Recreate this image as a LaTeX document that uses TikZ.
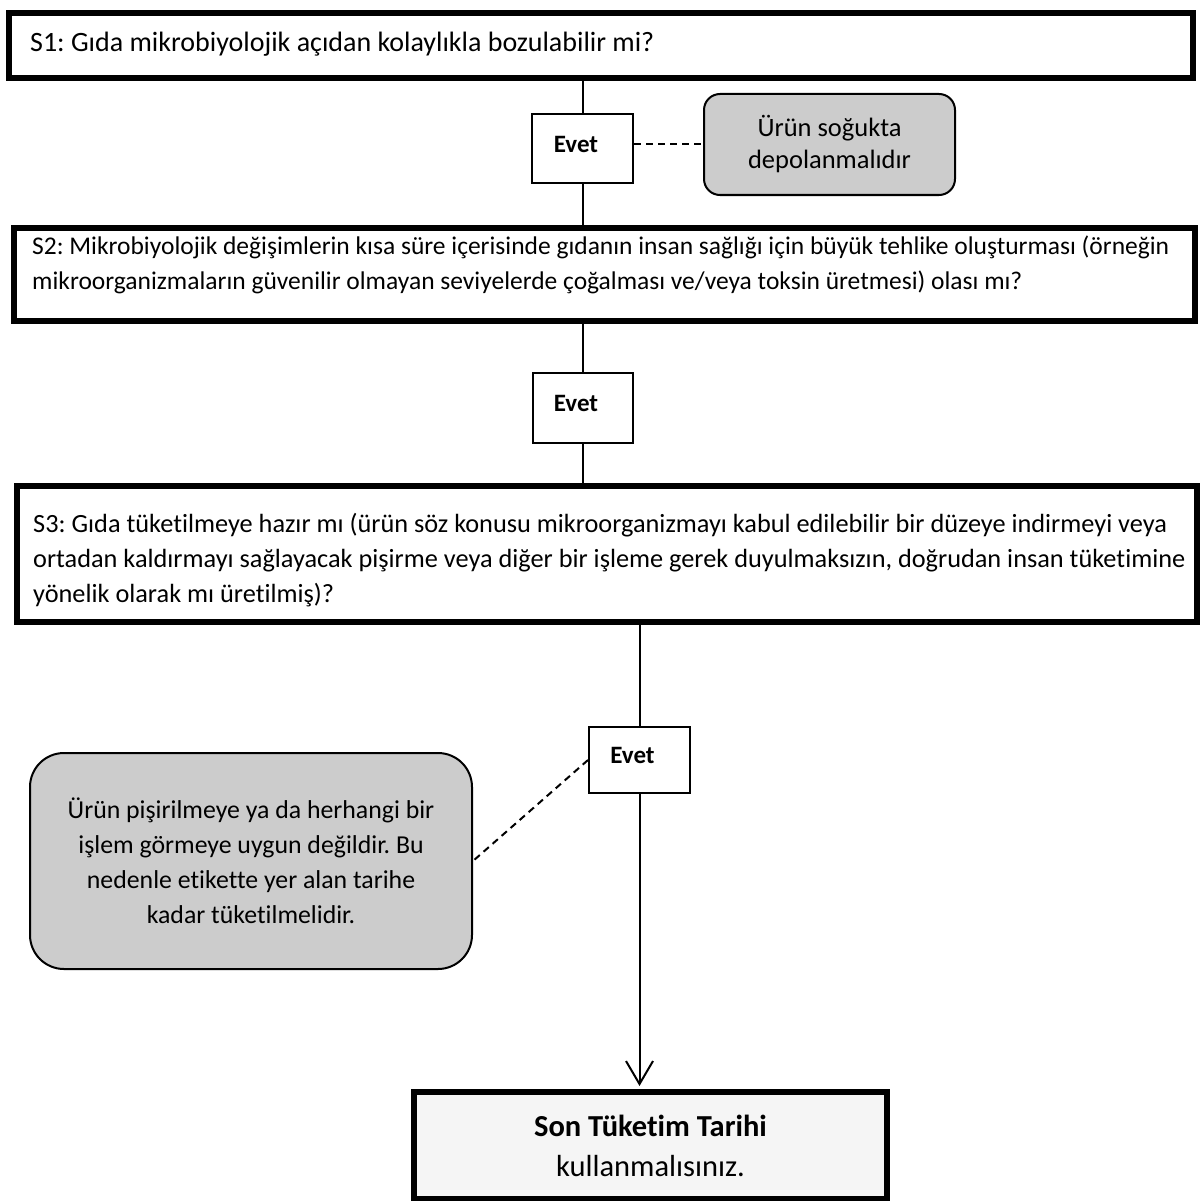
\documentclass[tikz,border=0pt]{standalone}
\usepackage{fontspec}
\setmainfont{Carlito}[Ligatures={NoCommon}]
\usetikzlibrary{arrows.meta}
\definecolor{boxgrey}{RGB}{204,204,204}
\definecolor{sonfill}{RGB}{245,245,245}
\frenchspacing
\begin{document}
\begin{tikzpicture}[x=1pt,y=-1pt,
  qbox/.style={draw=black, line width=6pt, fill=white, inner sep=0pt, anchor=north west},
  qtext/.style={anchor=west, align=left, inner sep=0pt},
  evetbox/.style={draw=black, line width=2pt, fill=white, inner sep=0pt, anchor=north west, text depth=9pt, font=\fontsize{25}{30}\selectfont\bfseries},
  notebox/.style={draw=black, line width=2pt, fill=boxgrey, inner sep=0pt, anchor=north west, align=center},
  conn/.style={draw=black, line width=2pt},
  dashline/.style={draw=black, line width=2pt, dash pattern=on 7pt off 5pt},
  sonbox/.style={draw=black, line width=6pt, fill=sonfill, inner sep=0pt, anchor=north west, align=center}
]
\useasboundingbox[fill=white] (0,0) rectangle (1199,1201);

% question boxes
\node[qbox, minimum width=1184pt, minimum height=65pt] (s1) at (6,10) {};
\node[qtext, font=\fontsize{28}{36}\selectfont] (s1t) at (30,44) {S1: Gıda mikrobiyolojik açıdan kolaylıkla bozulabilir mi?};

\node[qbox, minimum width=1181pt, minimum height=93pt] (s2) at (11,225) {};
\node[qtext, font=\fontsize{25.5}{35.5}\selectfont] (s2t) at (32,265) {S2: Mikrobiyolojik değişimlerin kısa süre içerisinde gıdanın insan sağlığı için büyük tehlike oluşturması (örneğin\\mikroorganizmaların güvenilir olmayan seviyelerde çoğalması ve/veya toksin üretmesi) olası mı?};

\node[qbox, minimum width=1180pt, minimum height=136pt] (s3) at (14,483) {};
\node[qtext, font=\fontsize{26.3}{35}\selectfont] (s3t) at (33,560) {S3: Gıda tüketilmeye hazır mı (ürün söz konusu mikroorganizmayı kabul edilebilir bir düzeye indirmeyi veya\\ortadan kaldırmayı sağlayacak pişirme veya diğer bir işleme gerek duyulmaksızın, doğrudan insan tüketimine\\yönelik olarak mı üretilmiş)?};

% Evet boxes
\node[evetbox, minimum width=101pt, minimum height=69pt] (e1) at (531,113) {Evet\hspace*{13pt}};
\node[evetbox, minimum width=100pt, minimum height=70pt] (e2) at (532,372) {Evet\hspace*{14pt}};
\node[evetbox, minimum width=101pt, minimum height=66pt] (e3) at (588,726) {Evet\hspace*{14pt}};

% note boxes
\node[notebox, rounded corners=16pt, minimum width=251pt, minimum height=101pt,
  font=\fontsize{26.5}{32}\selectfont] (g1) at (703,93) {Ürün soğukta\\depolanmalıdır};
\node[notebox, rounded corners=34pt, minimum width=442pt, minimum height=216pt,
  font=\fontsize{25.8}{35}\selectfont] (g2) at (29,752) {Ürün pişirilmeye ya da herhangi bir\\işlem görmeye uygun değildir. Bu\\nedenle etikette yer alan tarihe\\kadar tüketilmelidir.};

% result box
\node[sonbox, minimum width=473pt, minimum height=107pt,
  font=\fontsize{30.5}{40}\selectfont] (son) at (411,1089) {\textbf{Son Tüketim Tarihi}\\kullanmalısınız.};

% connectors
\draw[conn] (e1.north |- s1.south) -- (e1.north);
\draw[conn] (e1.south) -- (e1.south |- s2.north);
\draw[conn] (e2.north |- s2.south) -- (e2.north);
\draw[conn] (e2.south) -- (e2.south |- s3.north);
\draw[conn] (e3.north |- s3.south) -- (e3.north);
\draw[conn, -{Straight Barb[length=23pt, width=27pt, line width=2pt]}, shorten >=3pt] (e3.south) -- (e3.south |- son.north);
\draw[dashline] (g1.west -| e1.east) -- (g1.west);
\draw[dashline] (e3.west) -- (g2.east);
\end{tikzpicture}
\end{document}
